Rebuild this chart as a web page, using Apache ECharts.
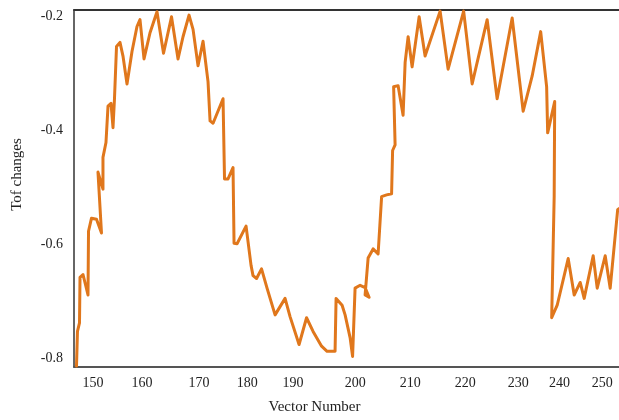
<!DOCTYPE html>
<html>
<head>
<meta charset="utf-8">
<script src="https://cdn.jsdelivr.net/npm/echarts@6/dist/echarts.min.js"></script>
<style>
  html, body { margin: 0; padding: 0; background: #fff; }
  #main { width: 619px; height: 420px; }
</style>
</head>
<body>
<div id="main"></div>
<script>
// x positions (vector number scale) and Tof change values
const xs = [146.76, 146.95, 147.35, 147.45, 148.04, 149.02, 149.12, 149.71, 150.69, 151.67,
  150.98, 151.96, 151.96, 152.55, 152.95, 153.54, 153.93, 154.22, 154.62, 155.30,
  155.89, 156.68, 157.66, 158.64, 159.23, 160.02, 161.20, 162.57, 163.85, 165.42,
  166.70, 167.68, 168.86, 169.65, 170.63, 171.61, 172.59, 172.99, 173.58, 175.54,
  175.83, 176.52, 177.50, 177.70, 178.29, 180.06, 181.04, 181.43, 182.12, 183.10,
  184.18, 185.76, 187.72, 188.70, 190.47, 191.94, 193.22, 194.89, 195.97, 197.54,
  197.74, 198.92, 199.51, 200.49, 200.98, 201.47, 202.46, 203.44, 204.22, 203.44,
  204.03, 205.01, 205.99, 206.68, 207.66, 208.64, 208.84, 209.33, 209.04, 209.92,
  210.90, 211.30, 211.89, 212.67, 214.05, 215.22, 218.17, 219.74, 222.79, 224.46,
  227.41, 229.37, 232.32, 234.48, 236.25, 237.92, 239.09, 239.29, 240.67, 240.57,
  240.08, 241.16, 243.32, 244.50, 245.68, 246.46, 248.23, 249.02, 250.59, 251.57,
  253.04, 253.30]
const tof = [-0.814, -0.753, -0.738, -0.658, -0.653, -0.689, -0.577, -0.554, -0.556, -0.580,
  -0.473, -0.503, -0.447, -0.421, -0.357, -0.352, -0.395, -0.344, -0.252, -0.245,
  -0.269, -0.318, -0.261, -0.217, -0.205, -0.274, -0.228, -0.191, -0.264, -0.200,
  -0.274, -0.235, -0.197, -0.222, -0.286, -0.243, -0.314, -0.383, -0.387, -0.344,
  -0.485, -0.485, -0.465, -0.598, -0.599, -0.568, -0.637, -0.655, -0.660, -0.643,
  -0.677, -0.724, -0.695, -0.727, -0.776, -0.729, -0.753, -0.779, -0.788, -0.788,
  -0.695, -0.707, -0.724, -0.764, -0.797, -0.677, -0.672, -0.676, -0.693, -0.689,
  -0.624, -0.608, -0.617, -0.516, -0.513, -0.511, -0.435, -0.425, -0.323, -0.321,
  -0.373, -0.280, -0.235, -0.288, -0.200, -0.269, -0.190, -0.292, -0.190, -0.318,
  -0.205, -0.344, -0.202, -0.366, -0.304, -0.226, -0.323, -0.404, -0.349, -0.516,
  -0.729, -0.707, -0.625, -0.689, -0.667, -0.695, -0.620, -0.677, -0.620, -0.677,
  -0.539, -0.537]

// tick labels of the x axis and where they sit on it
const xTickLabels = ['150', '160', '170', '180', '190', '200', '210', '220', '230', '240', '250']
const xTickPos = [150.0, 159.6, 170.8, 180.3, 189.3, 201.5, 212.3, 223.1, 233.5, 241.6, 250.0]
const yTicks = [-0.8, -0.6, -0.4, -0.2]

const chart = echarts.init(document.getElementById('main'))
const serif = '"Liberation Serif", "DejaVu Serif", serif'

chart.setOption({
  backgroundColor: '#ffffff',
  animation: false,
  grid: { left: 74, right: 0, top: 10, bottom: 47 },
  xAxis: [
    {
      type: 'value',
      min: 146.27,
      max: 253.3,
      name: 'Vector Number',
      nameLocation: 'middle',
      nameGap: 33,
      nameTextStyle: { fontFamily: serif, fontSize: 15, color: '#222', padding: [0, 64, 0, 0] },
      axisLine: { show: true, lineStyle: { color: '#555', width: 2 } },
      axisTick: { show: false },
      splitLine: { show: false },
      axisLabel: {
        customValues: xTickPos,
        margin: 9,
        fontFamily: serif,
        fontSize: 14,
        color: '#222',
        formatter: v => {
          let best = 0
          xTickPos.forEach((p, i) => {
            if (Math.abs(p - v) < Math.abs(xTickPos[best] - v)) best = i
          })
          return xTickLabels[best]
        }
      }
    },
    {
      // top frame line
      type: 'value',
      position: 'top',
      min: 146.27,
      max: 253.3,
      axisLine: { show: true, lineStyle: { color: '#333', width: 2 } },
      axisTick: { show: false },
      axisLabel: { show: false },
      splitLine: { show: false }
    }
  ],
  yAxis: {
    type: 'value',
    min: -0.8156,
    max: -0.188,
    name: 'Tof changes',
    nameLocation: 'middle',
    nameGap: 49,
    nameTextStyle: { fontFamily: serif, fontSize: 15, color: '#222', padding: [0, 0, 0, 28] },
    axisLine: { show: true, lineStyle: { color: '#333', width: 1.5 } },
    axisTick: { show: false },
    splitLine: { show: false },
    axisLabel: {
      customValues: yTicks,
      margin: 11,
      fontFamily: serif,
      fontSize: 14,
      color: '#222',
      formatter: v => v.toFixed(1)
    }
  },
  series: [
    {
      type: 'line',
      data: xs.map((x, i) => [x, tof[i]]),
      showSymbol: false,
      clip: true,
      lineStyle: { color: '#E0771C', width: 3, join: 'round', cap: 'round' }
    }
  ]
})
</script>
</body>
</html>
